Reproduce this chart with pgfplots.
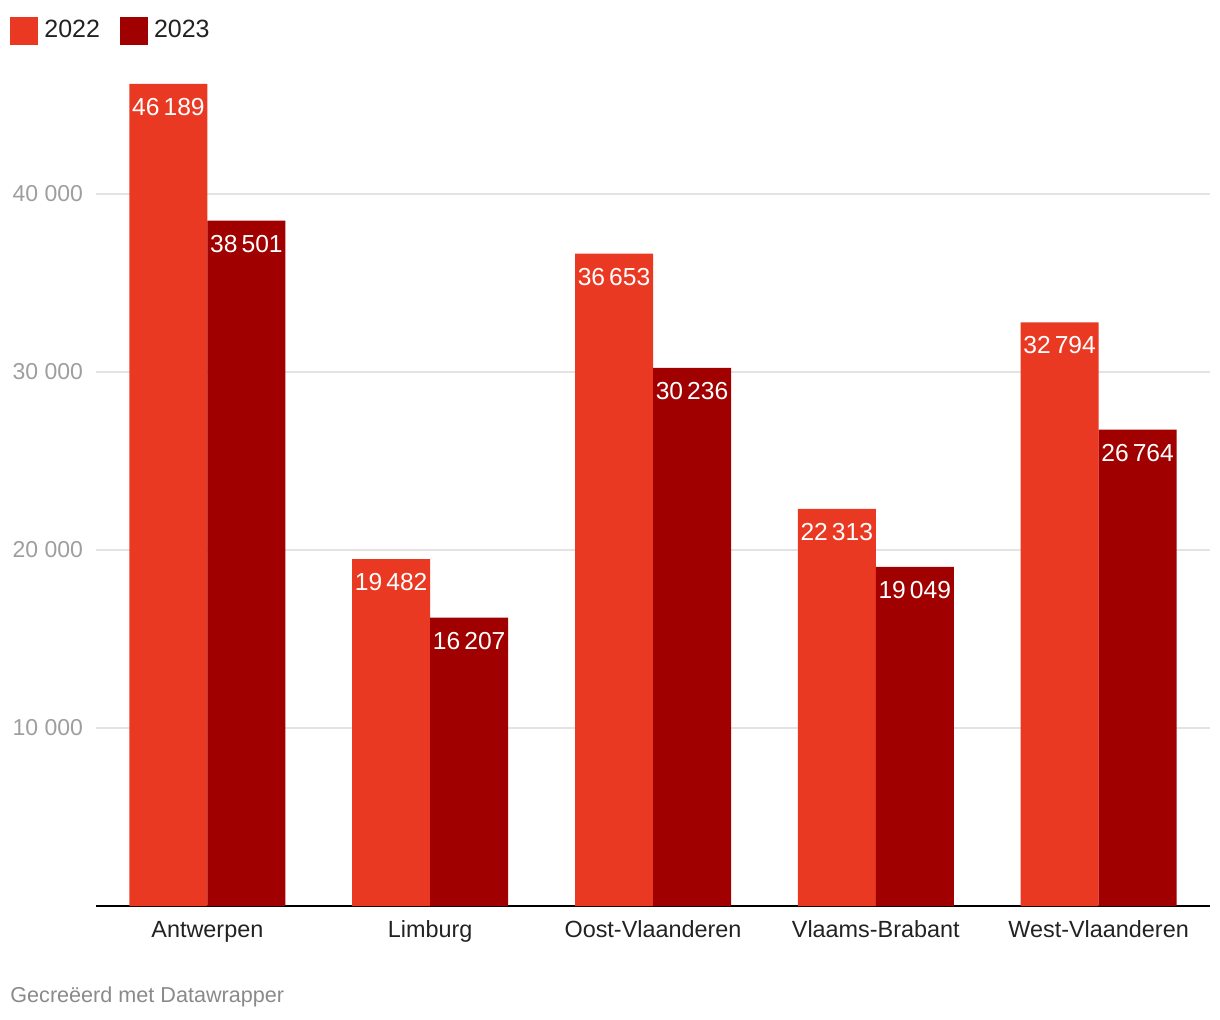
\documentclass[border=0pt]{standalone}
\usepackage{pgfplots}
\pgfplotsset{compat=1.18}
\usepackage{fontspec}
\setmainfont{Liberation Sans}
\definecolor{c22}{HTML}{EA3923}
\definecolor{c23}{HTML}{A00000}
\definecolor{gridc}{HTML}{E3E3E3}
\definecolor{tickc}{HTML}{9E9E9E}
\definecolor{footc}{HTML}{8A8A8A}
\definecolor{labc}{HTML}{222222}
\begin{document}
\begin{tikzpicture}
\useasboundingbox (0,0) rectangle (610pt,-510pt);
\begin{axis}[
  at={(48pt,-453pt)}, anchor=south west,
  scale only axis, width=557pt, height=422.75pt,
  xmin=-0.5, xmax=4.5, ymin=0, ymax=47500,
  scaled y ticks=false,
  ybar=0pt, bar width=39pt,
  axis lines*=left,
  x axis line style={black, line width=1pt},
  y axis line style={draw=none},
  major tick length=0pt,
  ymajorgrids, grid style={gridc, line width=1pt},
  ytick={10000,20000,30000,40000},
  yticklabels={10 000,20 000,30 000,40 000},
  yticklabel style={tickc, font=\fontsize{11.5}{13}\selectfont, anchor=east, xshift=-3pt},
  xtick={0,1,2,3,4},
  xticklabels={Antwerpen, Limburg, Oost-Vlaanderen, Vlaams-Brabant, West-Vlaanderen},
  xticklabel style={labc, font=\fontsize{11.7}{13}\selectfont, anchor=north, inner sep=0pt,
    text height=8.4pt, text depth=2.5pt, yshift=-7pt},
  /pgf/number format/assume math mode=true,
  nodes near coords={\pgfmathprintnumber[fixed, precision=0, 1000 sep={\,}]{\pgfplotspointmeta}},
  every node near coord/.append style={white, anchor=north, inner sep=0pt, yshift=-7pt, font=\fontsize{12.3}{13}\selectfont},
  legend columns=2,
  legend image code/.code={\fill[#1] (0pt,-7pt) rectangle (14pt,7pt);},
  legend style={at={(-0.0772,1.055)}, anchor=north west, draw=none, fill=none, inner sep=0pt,
    font=\fontsize{12.5}{14}\selectfont, text=labc,
    nodes={inner sep=3pt},
    /tikz/every even column/.append style={column sep=7pt}},
]
\addplot[fill=c22, draw=none] coordinates {(0,46189) (1,19482) (2,36653) (3,22313) (4,32794)};
\addplot[fill=c23, draw=none] coordinates {(0,38501) (1,16207) (2,30236) (3,19049) (4,26764)};
\legend{2022, 2023}
\end{axis}
\node[anchor=west, footc, font=\fontsize{10.8}{12}\selectfont, inner sep=0pt] at (5pt,-498.5pt) {Gecreëerd met Datawrapper};
\end{tikzpicture}
\end{document}
